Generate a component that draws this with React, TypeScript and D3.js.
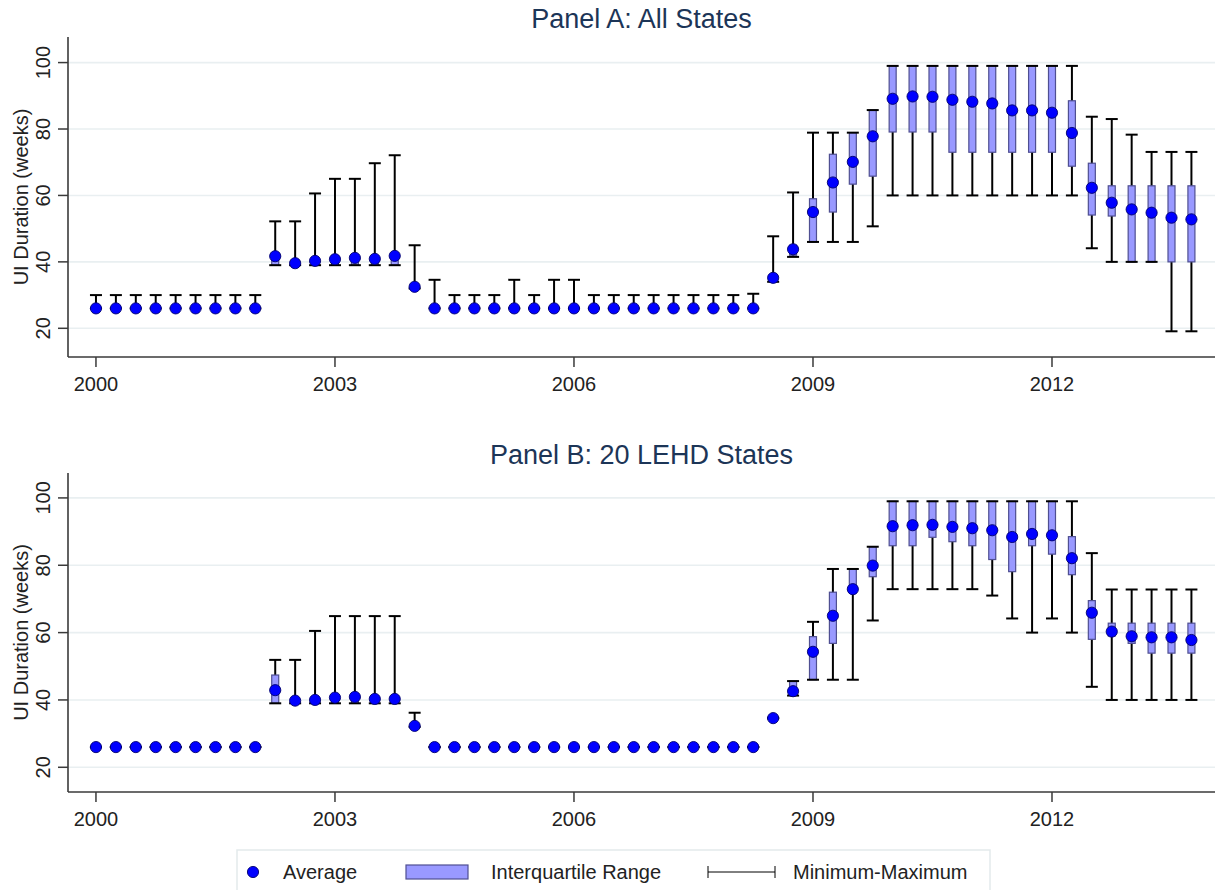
import React from 'react';
import * as d3 from 'd3';

// quarterly observations, 2000q1 .. 2013q4
const quarters = [
  '2000q1', '2000q2', '2000q3', '2000q4', '2001q1', '2001q2', '2001q3', '2001q4',
  '2002q1', '2002q2', '2002q3', '2002q4', '2003q1', '2003q2', '2003q3', '2003q4',
  '2004q1', '2004q2', '2004q3', '2004q4', '2005q1', '2005q2', '2005q3', '2005q4',
  '2006q1', '2006q2', '2006q3', '2006q4', '2007q1', '2007q2', '2007q3', '2007q4',
  '2008q1', '2008q2', '2008q3', '2008q4', '2009q1', '2009q2', '2009q3', '2009q4',
  '2010q1', '2010q2', '2010q3', '2010q4', '2011q1', '2011q2', '2011q3', '2011q4',
  '2012q1', '2012q2', '2012q3', '2012q4', '2013q1', '2013q2', '2013q3', '2013q4',
];

const xTicks = [2000, 2003, 2006, 2009, 2012];
const yTicks = [20, 40, 60, 80, 100];

// Panel A: all states
const avgA = [
  26, 26, 26, 26, 26, 26, 26, 26, 26, 41.7, 39.6, 40.3, 40.8, 41.2, 40.9, 41.8,
  32.5, 26, 26, 26, 26, 26, 26, 26, 26, 26, 26, 26, 26, 26, 26, 26,
  26, 26, 35.2, 43.8, 55, 63.9, 70.1, 77.8, 89.1, 89.8, 89.7, 88.8, 88.2, 87.7, 85.6, 85.6,
  84.9, 78.8, 62.3, 57.8, 55.8, 54.8, 53.3, 52.8,
];
const p25A = [
  26, 26, 26, 26, 26, 26, 26, 26, 26, 39, 39, 39, 39, 39, 39, 39,
  32, 26, 26, 26, 26, 26, 26, 26, 26, 26, 26, 26, 26, 26, 26, 26,
  26, 26, 34, 42, 46, 55, 63.4, 65.8, 79.1, 79.1, 79.1, 73, 73, 73, 73, 73,
  73, 68.8, 54.1, 53.8, 40, 40, 40, 40,
];
const p75A = [
  26, 26, 26, 26, 26, 26, 26, 26, 26, 42, 39.5, 40, 40, 41, 40, 42,
  33, 26, 26, 26, 26, 26, 26, 26, 26, 26, 26, 26, 26, 26, 26, 26,
  26, 26, 35, 45, 59, 72.4, 78.9, 85.7, 99, 99, 99, 99, 99, 99, 99, 99,
  99, 88.5, 69.7, 62.9, 62.9, 62.9, 62.9, 62.9,
];
const minA = [
  26, 26, 26, 26, 26, 26, 26, 26, 26, 39, 39, 39, 39, 39, 39, 39,
  32, 26, 26, 26, 26, 26, 26, 26, 26, 26, 26, 26, 26, 26, 26, 26,
  26, 26, 34, 41.5, 46, 46, 46, 50.7, 60, 60, 60, 60, 60, 60, 60, 60,
  60, 60, 44.1, 40, 40, 40, 19.1, 19.1,
];
const maxA = [
  30, 30, 30, 30, 30, 30, 30, 30, 30, 52.2, 52.2, 60.6, 65, 65, 69.7, 72.1,
  45, 34.6, 30, 30, 30, 34.6, 30, 34.6, 34.6, 30, 30, 30, 30, 30, 30, 30,
  30, 30.4, 47.7, 60.9, 78.9, 78.9, 78.9, 85.7, 99, 99, 99, 99, 99, 99, 99, 99,
  99, 99, 83.7, 83, 78.3, 73.1, 73.1, 73.1,
];

// Panel B: 20 LEHD states
const avgB = [
  26, 26, 26, 26, 26, 26, 26, 26, 26, 42.9, 39.8, 40, 40.7, 40.9, 40.3, 40.3,
  32.3, 26, 26, 26, 26, 26, 26, 26, 26, 26, 26, 26, 26, 26, 26, 26,
  26, 26, 34.6, 42.6, 54.3, 65, 72.9, 79.9, 91.6, 91.9, 92, 91.4, 91, 90.4, 88.4, 89.3,
  88.9, 82.1, 65.9, 60.3, 58.9, 58.6, 58.6, 57.8,
];
const p25B = [
  26, 26, 26, 26, 26, 26, 26, 26, 26, 39, 39, 39, 39, 39, 39, 39,
  32, 26, 26, 26, 26, 26, 26, 26, 26, 26, 26, 26, 26, 26, 26, 26,
  26, 26, 34.5, 41.3, 46, 56.8, 72.5, 76.6, 85.8, 85.8, 88.3, 87, 85.8, 81.7, 78.1, 85.8,
  83.3, 77.2, 58, 59, 56.8, 53.9, 53.9, 53.9,
];
const p75B = [
  26, 26, 26, 26, 26, 26, 26, 26, 26, 47.4, 39.5, 40, 40, 41, 40, 40,
  32.5, 26, 26, 26, 26, 26, 26, 26, 26, 26, 26, 26, 26, 26, 26, 26,
  26, 26, 34.7, 45.6, 58.8, 72, 78.9, 85.5, 99, 99, 99, 99, 99, 99, 99, 99,
  99, 88.5, 69.5, 62.8, 62.8, 62.8, 62.8, 62.8,
];
const minB = [
  26, 26, 26, 26, 26, 26, 26, 26, 26, 39, 39, 39, 39, 39, 39, 39,
  32, 26, 26, 26, 26, 26, 26, 26, 26, 26, 26, 26, 26, 26, 26, 26,
  26, 26, 34.5, 41.3, 46, 46, 46, 63.6, 72.9, 72.9, 72.9, 72.9, 72.9, 71, 64.2, 60,
  64.2, 60, 43.9, 40, 40, 40, 40, 40,
];
const maxB = [
  26, 26, 26, 26, 26, 26, 26, 26, 26, 51.9, 51.9, 60.5, 64.9, 64.9, 64.9, 64.9,
  36.2, 26, 26, 26, 26, 26, 26, 26, 26, 26, 26, 26, 26, 26, 26, 26,
  26, 26, 34.7, 45.6, 63.2, 78.9, 78.9, 85.5, 99, 99, 99, 99, 99, 99, 99, 99,
  99, 99, 83.6, 72.8, 72.8, 72.8, 72.8, 72.8,
];

const FONT = '"Liberation Sans", Arial, Helvetica, sans-serif';
const AXIS = '#3a3a3a';
const GRID = '#e9eff1';
const BAR_FILL = '#9999ff';
const BAR_STROKE = '#4f4f92';
const DOT = '#0000ff';
const DOT_STROKE = '#00006e';

const qTime = (q: string) => +q.slice(0, 4) + (+q.slice(5) - 1) / 4;

const x = d3.scaleLinear().domain([1999.649, 2014.046]).range([68, 1215]);

interface PanelProps {
  title: string;
  top: number;
  bottom: number;
  yDomain: [number, number];
  avg: number[];
  p25: number[];
  p75: number[];
  lo: number[];
  hi: number[];
}

const Panel = ({ title, top, bottom, yDomain, avg, p25, p75, lo, hi }: PanelProps) => {
  const y = d3.scaleLinear().domain(yDomain).range([bottom, top]);
  const [x0, x1] = x.range();
  const barW = 7;
  const capW = 12;
  return (
    <g>
      <text
        x={(x0 + x1) / 2}
        y={top - 9}
        textAnchor="middle"
        fontSize={27}
        fill="#1c3557"
        fontFamily={FONT}
      >
        {title}
      </text>
      {yTicks.map((t) => (
        <g key={t}>
          <line x1={x0} x2={x1} y1={y(t)} y2={y(t)} stroke={GRID} strokeWidth={1.6} />
          <line x1={x0 - 10} x2={x0} y1={y(t)} y2={y(t)} stroke={AXIS} strokeWidth={1.5} />
          <text
            transform={`translate(50,${y(t)}) rotate(-90)`}
            textAnchor="middle"
            fontSize={20}
            fill="#222"
            fontFamily={FONT}
          >
            {t}
          </text>
        </g>
      ))}
      <text
        transform={`translate(28,${(top + bottom) / 2}) rotate(-90)`}
        textAnchor="middle"
        fontSize={20}
        fill="#222"
        fontFamily={FONT}
      >
        UI Duration (weeks)
      </text>
      {xTicks.map((t) => (
        <g key={t}>
          <line x1={x(t)} x2={x(t)} y1={bottom} y2={bottom + 10} stroke={AXIS} strokeWidth={1.5} />
          <text x={x(t)} y={bottom + 34} textAnchor="middle" fontSize={20} fill="#222" fontFamily={FONT}>
            {t}
          </text>
        </g>
      ))}
      <line x1={x0} x2={x0} y1={top} y2={bottom} stroke={AXIS} strokeWidth={1.6} />
      <line x1={x0} x2={x1} y1={bottom} y2={bottom} stroke={AXIS} strokeWidth={1.6} />

      {quarters.map((q, i) => {
        const cx = x(qTime(q));
        return (
          <g key={q}>
            <line x1={cx} x2={cx} y1={y(lo[i])} y2={y(hi[i])} stroke="#000" strokeWidth={2} />
            <rect
              x={cx - barW / 2}
              y={y(p75[i])}
              width={barW}
              height={Math.max(0, y(p25[i]) - y(p75[i]))}
              fill={BAR_FILL}
              stroke={BAR_STROKE}
              strokeWidth={1.2}
            />
            <line x1={cx - capW / 2} x2={cx + capW / 2} y1={y(hi[i])} y2={y(hi[i])} stroke="#000" strokeWidth={2} />
            <line x1={cx - capW / 2} x2={cx + capW / 2} y1={y(lo[i])} y2={y(lo[i])} stroke="#000" strokeWidth={2} />
            <circle cx={cx} cy={y(avg[i])} r={5.6} fill={DOT} stroke={DOT_STROKE} strokeWidth={0.9} />
          </g>
        );
      })}
    </g>
  );
};

const Legend = () => (
  <g fontFamily={FONT} fontSize={20} fill="#222">
    <rect x={237} y={850} width={753} height={60} fill="#fff" stroke="#e3eaec" strokeWidth={1.5} />
    <circle cx={253} cy={872} r={5.6} fill={DOT} stroke={DOT_STROKE} strokeWidth={0.9} />
    <text x={283} y={879}>Average</text>
    <rect x={406} y={865} width={62} height={14} fill={BAR_FILL} stroke={BAR_STROKE} strokeWidth={1.2} />
    <text x={491} y={879}>Interquartile Range</text>
    <line x1={708} x2={775} y1={872} y2={872} stroke="#000" strokeWidth={1} />
    <line x1={708} x2={708} y1={866} y2={878} stroke="#000" strokeWidth={1} />
    <line x1={775} x2={775} y1={866} y2={878} stroke="#000" strokeWidth={1} />
    <text x={793} y={879}>Minimum-Maximum</text>
  </g>
);

export default function App() {
  return (
    <div style={{ position: 'absolute', left: 0, top: 0, background: '#fff' }}>
      <svg width={1215} height={890} style={{ display: 'block' }}>
        <rect width={1215} height={890} fill="#fff" />
        <Panel
          title="Panel A: All States"
          top={37}
          bottom={357}
          yDomain={[11.36, 107.7]}
          avg={avgA}
          p25={p25A}
          p75={p75A}
          lo={minA}
          hi={maxA}
        />
        <Panel
          title="Panel B: 20 LEHD States"
          top={473}
          bottom={792}
          yDomain={[12.66, 107.4]}
          avg={avgB}
          p25={p25B}
          p75={p75B}
          lo={minB}
          hi={maxB}
        />
        <Legend />
      </svg>
    </div>
  );
}
